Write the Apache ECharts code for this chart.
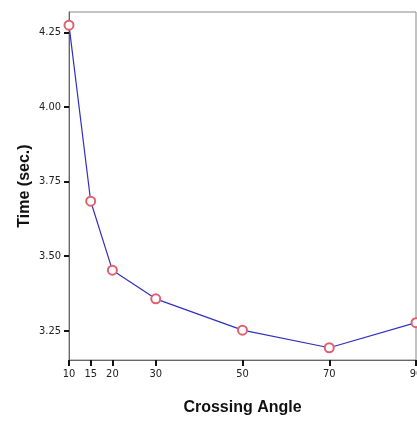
<!DOCTYPE html>
<html>
<head>
<meta charset="utf-8">
<title>Crossing Angle</title>
<script src="https://cdn.jsdelivr.net/npm/echarts@6/dist/echarts.min.js"></script>
<style>
  html, body { margin: 0; padding: 0; background: #fff; }
  #main { width: 417px; height: 421px; }
</style>
</head>
<body>
<div id="main"></div>
<script>
// crossing angle (deg) vs time (sec.)
var angles = [10, 15, 20, 30, 50, 70, 90];
var times = [4.274, 3.684, 3.453, 3.357, 3.252, 3.193, 3.277];
var xTicks = [10, 15, 20, 30, 50, 70, 90];
var yTicks = [3.25, 3.50, 3.75, 4.00, 4.25];

var chart = echarts.init(document.getElementById('main'));

var pts = angles.map(function (a, i) { return [a, times[i]]; });

var option = {
  backgroundColor: '#fff',
  animation: false,
  grid: {
    left: 69, right: 1, top: 12, bottom: 61,
    outerBoundsMode: 'none',
    containLabel: false,
    show: true, borderColor: '#888', borderWidth: 1
  },
  xAxis: {
    type: 'value',
    min: 10, max: 90,
    name: 'Crossing Angle',
    nameLocation: 'middle',
    nameGap: 40,
    nameMoveOverlap: false,
    nameTextStyle: { fontFamily: 'Liberation Sans', fontWeight: 'bold', fontSize: 16, color: '#111' },
    splitLine: { show: false },
    axisLine: { lineStyle: { color: '#666', width: 1 } },
    axisTick: { show: true, length: 6, lineStyle: { color: '#111', width: 2 }, customValues: xTicks },
    axisLabel: { fontFamily: 'DejaVu Sans Condensed', fontSize: 11, color: '#222', margin: 9, customValues: xTicks }
  },
  yAxis: {
    type: 'value',
    min: 3.152, max: 4.318,
    name: 'Time (sec.)',
    nameLocation: 'middle',
    nameGap: 36,
    nameMoveOverlap: false,
    nameTextStyle: { fontFamily: 'Liberation Sans', fontWeight: 'bold', fontSize: 16, color: '#111' },
    splitLine: { show: false },
    axisLine: { show: true, lineStyle: { color: '#666', width: 1 } },
    axisTick: { show: true, length: 5, lineStyle: { color: '#111', width: 2 }, customValues: yTicks },
    axisLabel: {
      fontFamily: 'DejaVu Sans Condensed', fontSize: 11, color: '#222', margin: 8,
      customValues: yTicks,
      formatter: function (v) { return v.toFixed(2); }
    }
  },
  series: [{
    type: 'line',
    data: pts,
    symbol: 'emptyCircle',
    symbolSize: 9,
    clip: false,
    lineStyle: { color: '#3030c0', width: 1.2 },
    itemStyle: { color: '#e06070', borderColor: '#e06070', borderWidth: 0.9 }
  }]
};

chart.setOption(option);
</script>
</body>
</html>
